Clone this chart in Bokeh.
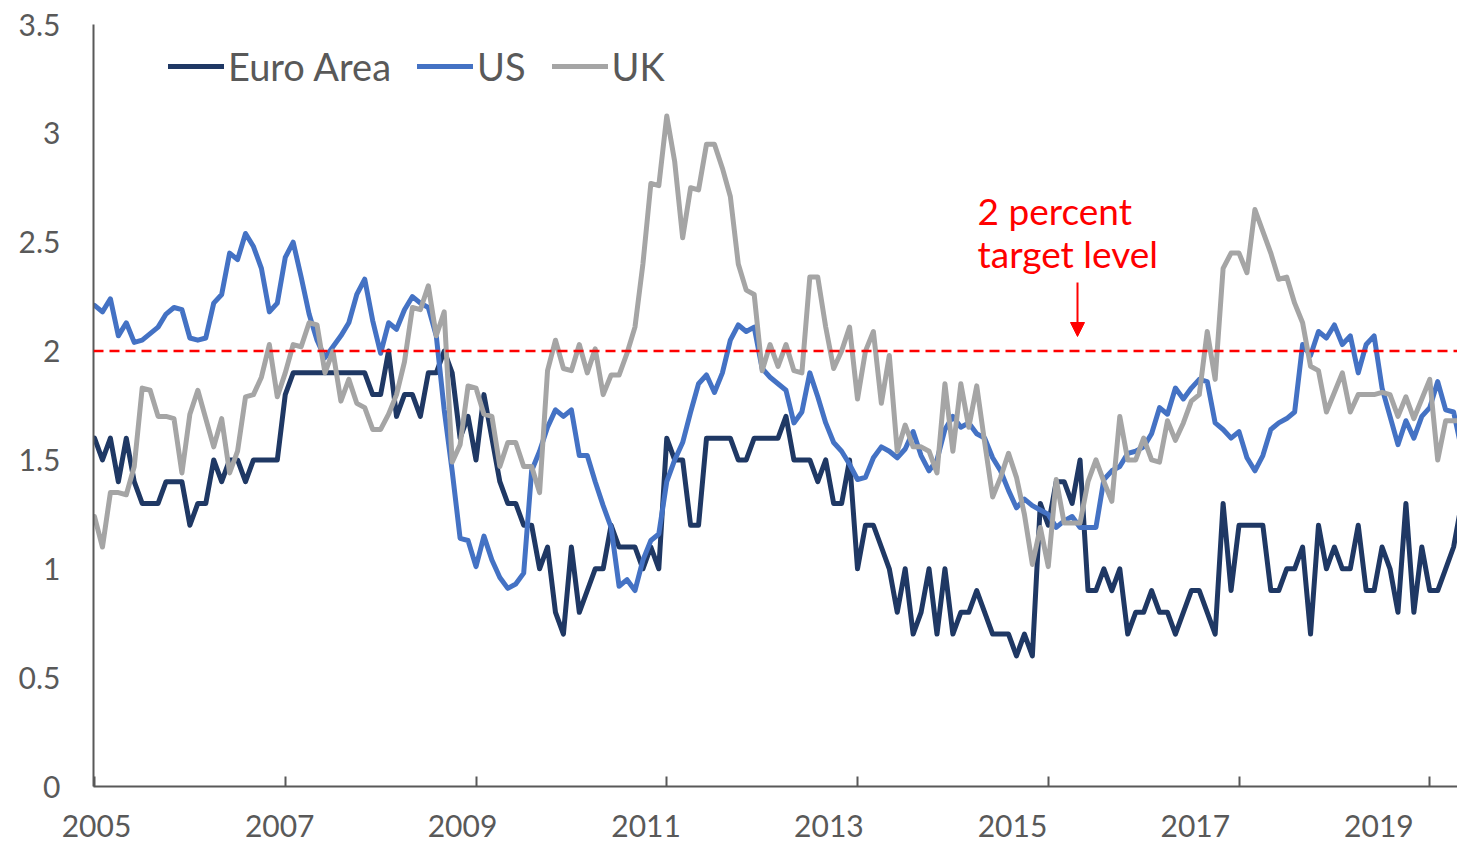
from bokeh.plotting import figure
from bokeh.models import (Range1d, FixedTicker, Legend, LegendItem, Label, Span, LinearAxis,
                          Arrow, NormalHead, CustomJSTickFormatter, PrintfTickFormatter)
from bokeh.embed import file_html
from bokeh.resources import INLINE

# ---------------- data (monthly, Jan 2005 = index 0) ----------------
euro_area = [1.6,1.5,1.6,1.4,1.6,1.4,1.3,1.3,1.3,1.4,
             1.4,1.4,1.2,1.3,1.3,1.5,1.4,1.5,1.5,1.4,
             1.5,1.5,1.5,1.5,1.8,1.9,1.9,1.9,1.9,1.9,
             1.9,1.9,1.9,1.9,1.9,1.8,1.8,2.0,1.7,1.8,
             1.8,1.7,1.9,1.9,2.0,1.9,1.6,1.7,1.5,1.8,
             1.6,1.4,1.3,1.3,1.2,1.2,1.0,1.1,0.8,0.7,
             1.1,0.8,0.9,1.0,1.0,1.2,1.1,1.1,1.1,1.0,
             1.1,1.0,1.6,1.5,1.5,1.2,1.2,1.6,1.6,1.6,
             1.6,1.5,1.5,1.6,1.6,1.6,1.6,1.7,1.5,1.5,
             1.5,1.4,1.5,1.3,1.3,1.5,1.0,1.2,1.2,1.1,
             1.0,0.8,1.0,0.7,0.8,1.0,0.7,1.0,0.7,0.8,
             0.8,0.9,0.8,0.7,0.7,0.7,0.6,0.7,0.6,1.3,
             1.2,1.4,1.4,1.3,1.5,0.9,0.9,1.0,0.9,1.0,
             0.7,0.8,0.8,0.9,0.8,0.8,0.7,0.8,0.9,0.9,
             0.8,0.7,1.3,0.9,1.2,1.2,1.2,1.2,0.9,0.9,
             1.0,1.0,1.1,0.7,1.2,1.0,1.1,1.0,1.0,1.2,
             0.9,0.9,1.1,1.0,0.8,1.3,0.8,1.1,0.9,0.9,
             1.0,1.1,1.3]

us = [2.21,2.18,2.24,2.07,2.13,2.04,2.05,2.08,2.11,2.17,
      2.20,2.19,2.06,2.05,2.06,2.22,2.26,2.45,2.42,2.54,
      2.48,2.38,2.18,2.22,2.43,2.50,2.34,2.17,2.05,1.97,
      2.02,2.07,2.13,2.26,2.33,2.14,1.99,2.13,2.10,2.19,
      2.25,2.22,2.20,2.07,1.73,1.45,1.14,1.13,1.01,1.15,
      1.04,0.96,0.91,0.93,0.98,1.45,1.54,1.65,1.73,1.70,
      1.73,1.52,1.52,1.40,1.29,1.19,0.92,0.95,0.90,1.04,
      1.13,1.16,1.40,1.50,1.58,1.72,1.85,1.89,1.81,1.90,
      2.05,2.12,2.09,2.11,1.92,1.88,1.85,1.82,1.67,1.72,
      1.90,1.79,1.67,1.58,1.54,1.48,1.41,1.42,1.51,1.56,
      1.54,1.51,1.55,1.63,1.52,1.45,1.50,1.64,1.70,1.65,
      1.67,1.62,1.60,1.51,1.45,1.36,1.28,1.32,1.29,1.27,
      1.25,1.19,1.22,1.24,1.19,1.19,1.19,1.41,1.45,1.47,
      1.53,1.54,1.56,1.62,1.74,1.71,1.83,1.78,1.83,1.87,
      1.86,1.67,1.64,1.60,1.63,1.51,1.45,1.52,1.64,1.67,
      1.69,1.72,2.03,1.98,2.09,2.06,2.12,2.03,2.07,1.90,
      2.03,2.07,1.83,1.70,1.57,1.68,1.60,1.70,1.74,1.86,
      1.73,1.72,1.55]

uk = [1.24,1.10,1.35,1.35,1.34,1.47,1.83,1.82,1.70,1.70,
      1.69,1.44,1.71,1.82,1.69,1.56,1.69,1.44,1.54,1.79,
      1.80,1.88,2.03,1.79,1.90,2.03,2.02,2.13,2.12,1.90,
      2.00,1.77,1.87,1.76,1.74,1.64,1.64,1.71,1.80,1.95,
      2.20,2.19,2.30,2.07,2.18,1.49,1.57,1.84,1.83,1.71,
      1.70,1.47,1.58,1.58,1.47,1.47,1.35,1.91,2.05,1.92,
      1.91,2.03,1.90,2.01,1.80,1.89,1.89,1.99,2.11,2.40,
      2.77,2.76,3.08,2.87,2.52,2.75,2.74,2.95,2.95,2.84,
      2.71,2.40,2.28,2.26,1.91,2.03,1.93,2.03,1.91,1.90,
      2.34,2.34,2.11,1.92,2.00,2.11,1.78,2.00,2.09,1.76,
      1.98,1.54,1.66,1.56,1.56,1.54,1.44,1.85,1.54,1.85,
      1.65,1.84,1.58,1.33,1.42,1.53,1.42,1.25,1.02,1.19,
      1.01,1.41,1.21,1.21,1.21,1.40,1.50,1.40,1.31,1.70,
      1.50,1.50,1.60,1.50,1.49,1.68,1.59,1.67,1.77,1.80,
      2.09,1.87,2.38,2.45,2.45,2.36,2.65,2.55,2.45,2.33,
      2.34,2.22,2.13,1.93,1.91,1.72,1.81,1.90,1.72,1.80,
      1.80,1.80,1.81,1.80,1.70,1.79,1.69,1.78,1.87,1.50,
      1.68,1.68,1.68]

months = list(range(len(euro_area)))
series_names = ["Euro Area", "US", "UK"]
target_level = 2.0
year_ticks = [0, 24, 48, 72, 96, 120, 144, 168]
year_labels = ["2005", "2007", "2009", "2011", "2013", "2015", "2017", "2019"]
year_label_pos = [0.25, 23.3, 46.3, 69.4, 92.4, 115.5, 138.5, 161.6]
y_ticks = [0, 0.5, 1, 1.5, 2, 2.5, 3, 3.5]

# ---------------- style ----------------
FONT = "Lato"
TXT = "#595959"
C_EURO, C_US, C_UK, C_RED = "#1F3864", "#4472C4", "#A5A5A5", "#FF0000"

p = figure(width=1457, height=844,
           x_range=Range1d(-0.126, 171.49), y_range=Range1d(0, 3.5),
           output_backend="svg", toolbar_location=None,
           min_border_left=93, min_border_right=0,
           min_border_top=24, min_border_bottom=58)
p.xgrid.visible = False
p.ygrid.visible = False
p.outline_line_color = None
p.background_fill_color = "white"
p.border_fill_color = "white"

# y axis
p.yaxis.ticker = FixedTicker(ticks=y_ticks)
p.yaxis.formatter = PrintfTickFormatter(format="%g")
p.yaxis.major_tick_in = 0
p.yaxis.major_tick_out = 0
p.yaxis.minor_tick_line_color = None
p.yaxis.axis_line_color = TXT
p.yaxis.axis_line_width = 2
p.yaxis.major_label_standoff = 33
p.yaxis.major_label_text_font = FONT
p.yaxis.major_label_text_font_size = "30px"
p.yaxis.major_label_text_color = TXT

# x axis (line + inward year ticks, no labels)
p.xaxis.ticker = FixedTicker(ticks=year_ticks)
p.xaxis.formatter = CustomJSTickFormatter(code="return ''")
p.xaxis.major_tick_in = 10
p.xaxis.major_tick_out = 0
p.xaxis.minor_tick_line_color = None
p.xaxis.axis_line_color = TXT
p.xaxis.axis_line_width = 2
p.xaxis.major_tick_line_color = TXT
p.xaxis.major_tick_line_width = 2
p.xaxis.major_label_standoff = 0
p.xaxis.major_label_text_font_size = "0px"

# second x axis carrying the year labels
label_axis = LinearAxis(ticker=FixedTicker(ticks=year_label_pos),
                        formatter=CustomJSTickFormatter(args=dict(labels=year_labels),
                                                        code="return labels[index]"),
                        axis_line_color=None, major_tick_line_color=None,
                        minor_tick_line_color=None, major_label_standoff=22,
                        major_label_text_font=FONT, major_label_text_font_size="30px",
                        major_label_text_color=TXT)
p.add_layout(label_axis, "below")

# data lines
kw = dict(line_width=5, line_join="round", line_cap="round")
r_euro = p.line(months, euro_area, line_color=C_EURO, **kw)
r_us = p.line(months, us, line_color=C_US, **kw)
r_uk = p.line(months, uk, line_color=C_UK, **kw)

# target line
p.add_layout(Span(location=target_level, dimension="width", line_color=C_RED,
                  line_width=2.5, line_dash="10 6"))

# annotation
p.add_layout(Label(x=884, y=576, x_units="screen", y_units="screen", text="2 percent",
                   text_baseline="alphabetic", text_font=FONT, text_font_size="37px",
                   text_color=C_RED))
p.add_layout(Label(x=884, y=533, x_units="screen", y_units="screen", text="target level",
                   text_baseline="alphabetic", text_font=FONT, text_font_size="37px",
                   text_color=C_RED))
p.add_layout(Arrow(end=NormalHead(size=14, fill_color=C_RED, line_color=C_RED),
                   x_start=984, y_start=504, x_end=984, y_end=450,
                   start_units="screen", end_units="screen",
                   line_color=C_RED, line_width=2))

# legend
legend = Legend(items=[LegendItem(label=series_names[0], renderers=[r_euro]),
                       LegendItem(label=series_names[1], renderers=[r_us]),
                       LegendItem(label=series_names[2], renderers=[r_uk])],
                orientation="horizontal", location=(75, 697),
                glyph_width=56, glyph_height=20, label_standoff=4, spacing=26,
                padding=0, margin=0,
                label_text_font=FONT, label_text_font_size="38px",
                label_text_color=TXT, border_line_color=None,
                background_fill_alpha=0)
p.add_layout(legend)

open("out.html", "w").write(file_html(p, INLINE))
